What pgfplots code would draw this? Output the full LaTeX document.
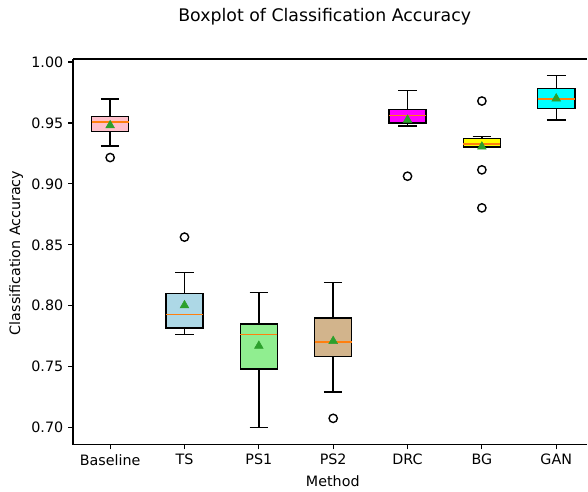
\documentclass[border=0pt]{standalone}
\usepackage{fontspec}
\setmainfont{DejaVu Sans}
\usepackage{pgfplots}
\pgfplotsset{compat=1.18}
\usepgfplotslibrary{statistics}
\definecolor{mplorange}{HTML}{FF7F0E}
\definecolor{mplgreen}{HTML}{2CA02C}
\definecolor{cpink}{HTML}{FFC0CB}
\definecolor{clightblue}{HTML}{ADD8E6}
\definecolor{clightgreen}{HTML}{90EE90}
\definecolor{ctan}{HTML}{D2B48C}
\definecolor{cmagenta}{HTML}{FF00FF}
\definecolor{cyellow}{HTML}{FFFF00}
\definecolor{ccyan}{HTML}{00FFFF}

\pgfplotsset{
  mybox/.style={
    draw=black, line width=1pt, solid,
    mark=o, mark size=3pt,
    boxplot/box extend=0.5,
    boxplot/whisker extend=0.25,
    boxplot/every median/.style={draw=mplorange, line width=1pt},
  },
}

\begin{document}
\begin{tikzpicture}
  % page frame, as the reference (its right border is cut off)
  \path (-52.6pt,-33.1pt) rectangle (370.8pt,320.4pt);
  \begin{axis}[
    scale only axis,
    width=370.8pt, height=277.9pt,
    boxplot/draw direction=y,
    axis x line*=box, axis y line*=left,
    xmin=0.5, xmax=7.42,
    ymin=0.6861, ymax=1.0025,
    xtick={1,2,3,4,5,6,7},
    xticklabels={Baseline,TS,PS1,PS2,DRC,BG,GAN},
    ytick={0.70,0.75,0.80,0.85,0.90,0.95,1.00},
    yticklabel style={/pgf/number format/.cd, fixed, fixed zerofill, precision=2},
    /pgf/number format/assume math mode=true,
    tick label style={font=\fontsize{10.3}{12}\selectfont},
    tick align=outside, tick pos=left,
    major tick length=3.5pt,
    every tick/.style={black, line width=0.8pt},
    axis line style={line width=0.8pt, -},
    xlabel={Method}, ylabel={Classification Accuracy},
    label style={font=\fontsize{10.3}{12}\selectfont},
    xlabel style={at={(axis description cs:0.505,-0.0959)}, anchor=center},
    ylabel style={at={(axis description cs:-0.1106,0.497)}, anchor=center},
  ]
    % Baseline
    \addplot[mybox, fill=cpink, boxplot prepared={draw position=1,
      lower whisker=0.9311, lower quartile=0.9432, median=0.9508,
      upper quartile=0.9552, upper whisker=0.9697}]
      coordinates {(0,0.9216)};
    % TS
    \addplot[mybox, fill=clightblue, boxplot prepared={draw position=2,
      lower whisker=0.7765, lower quartile=0.7816, median=0.7926,
      upper quartile=0.8098, upper whisker=0.8273}]
      coordinates {(0,0.8563)};
    % PS1
    \addplot[mybox, fill=clightgreen, boxplot prepared={draw position=3,
      lower whisker=0.7000, lower quartile=0.7481, median=0.7765,
      upper quartile=0.7850, upper whisker=0.8109}]
      coordinates {};
    % PS2
    \addplot[mybox, fill=ctan, boxplot prepared={draw position=4,
      lower whisker=0.7293, lower quartile=0.7585, median=0.7703,
      upper quartile=0.7899, upper whisker=0.8189}]
      coordinates {(0,0.7076)};
    % DRC
    \addplot[mybox, fill=cmagenta, boxplot prepared={draw position=5,
      lower whisker=0.9475, lower quartile=0.9500, median=0.9560,
      upper quartile=0.9612, upper whisker=0.9768}]
      coordinates {(0,0.9063)};
    % BG
    \addplot[mybox, fill=cyellow, boxplot prepared={draw position=6,
      lower whisker=0.9300, lower quartile=0.9303, median=0.9326,
      upper quartile=0.9372, upper whisker=0.9391}]
      coordinates {(0,0.9680) (0,0.9115) (0,0.8803)};
    % GAN
    \addplot[mybox, fill=ccyan, boxplot prepared={draw position=7,
      lower whisker=0.9525, lower quartile=0.9617, median=0.9697,
      upper quartile=0.9781, upper whisker=0.9888}]
      coordinates {};
    % means
    \addplot[only marks, mark=triangle*, mark size=3.6pt,
      mark options={fill=mplgreen, draw=mplgreen, line width=0.4pt}]
      coordinates {(1,0.9480) (2,0.8003) (3,0.7670) (4,0.7710)
                   (5,0.9525) (6,0.9305) (7,0.9700)};
  \end{axis}
  \node[font=\fontsize{12.5}{14}\selectfont] at (181.4pt,308.2pt) {Boxplot of Classification Accuracy};
\end{tikzpicture}
\end{document}
